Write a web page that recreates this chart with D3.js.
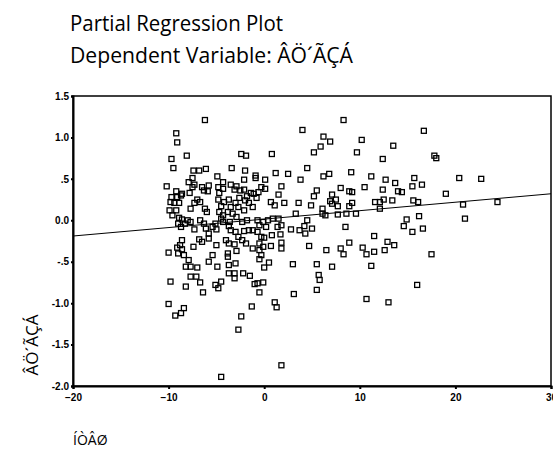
<!DOCTYPE html>
<html>
<head>
<meta charset="utf-8">
<script src="https://cdn.jsdelivr.net/npm/d3@7"></script>
<style>
  body { margin: 0; background: #fff; }
  svg { display: block; }
</style>
</head>
<body>
<script>
let w = 553;
let h = 450;

// residuals, x then y in matching order
let xValues = [
  -6.2,-9.2,-9.1,-8.1,-9.7,-9.5,-7.4,-6.8,-6.1,-4.9,
  -10.2,-7.9,-7.5,-7.3,-6.5,-5.8,-4.3,-4.3,-9.2,-9.7,
  -8.7,-7.8,-6.3,-5.9,-4.8,-4.7,-3.5,-2.9,-3.1,-2.5,
  -2.1,-2.1,-1.4,-1.1,-0.6,-0.3,0.1,-9.1,-8.6,-7.5,
  8.3,4.0,6.2,6.9,10.2,5.9,5.2,9.7,12.4,-2.4,
  -1.9,0.8,-3.4,-2.0,-0.9,-0.9,0.1,1.2,2.5,4.5,
  3.8,6.2,6.8,9.1,11.2,12.7,1.8,5.5,8.0,8.9,
  9.2,10.5,12.4,1.5,5.2,7.1,16.7,13.5,17.8,18.0,
  20.4,22.7,13.7,15.7,15.5,16.5,14.0,14.4,19.0,13.4,
  12.5,15.6,16.1,20.8,24.4,16.2,21.0,14.9,14.6,15.5,
  16.6,12.9,13.6,12.6,17.5,16.0,13.0,-0.8,0.7,1.1,
  2.1,3.6,4.9,6.9,7.5,7.1,7.7,9.2,8.9,11.6,
  12.1,12.1,6.1,3.3,6.1,6.4,7.7,8.6,9.6,4.5,
  4.2,5.0,2.8,3.7,4.3,1.7,8.5,11.5,4.7,8.9,
  10.3,10.7,11.5,6.5,8.0,8.3,1.8,1.8,0.7,0.5,
  0.0,3.0,5.5,7.1,11.2,-0.7,-0.1,0.4,0.9,1.5,
  1.8,1.4,-0.5,0.2,-0.7,-0.3,0.0,-0.5,-0.1,-0.5,
  -0.3,-0.5,0.8,-0.7,-0.1,-0.5,1.1,1.3,
  3.1,5.7,5.8,5.5,10.7,1.8,
  -9.8,-9.4,-8.9,-9.9,-9.2,-9.6,
  -7.3,-7.0,-6.7,-7.7,-6.2,-6.0,-4.8,-4.5,-4.2,-3.7,
  -3.5,-3.8,-3.0,-2.7,-2.6,-2.0,-1.6,-1.8,-4.7,-4.3,
  -4.5,-3.3,-2.9,-2.1,-1.2,-8.9,-8.6,-8.0,-8.3,-9.0,
  -8.7,-7.7,-7.3,-6.7,-6.3,-6.1,-5.8,-5.4,-5.1,-5.0,
  -4.3,-3.7,-3.6,-3.5,-3.0,-2.7,-2.3,-1.8,-2.1,-1.6,
  -1.2,-8.6,-8.8,-8.6,-9.1,-9.0,-8.4,-10.0,-7.4,-6.8,
  -6.5,-5.8,-5.0,-5.4,-4.0,-3.7,-3.8,-3.8,-3.1,-2.9,
  -3.0,-3.7,-2.3,-1.9,-1.2,-7.9,-8.2,-7.0,-7.7,-4.9,
  -5.8,-9.8,-8.2,-10.0,-9.3,-8.7,-8.4,-6.7,-6.4,-7.7,-7.1,
  -5.1,-4.8,-4.5,
  -3.7,-3.1,-3.1,-2.2,-1.5,-1.0,-1.3,-2.4,-2.7,-4.5
];
let yValues = [
  1.21,1.05,0.94,0.78,0.74,0.63,0.60,0.60,0.62,0.53,
  0.41,0.46,0.51,0.43,0.40,0.42,0.46,0.38,0.35,0.28,
  0.30,0.33,0.36,0.35,0.40,0.33,0.43,0.41,0.37,0.36,
  0.49,0.37,0.33,0.32,0.34,0.40,0.38,0.28,0.32,0.40,
  1.21,1.09,1.01,0.95,0.97,0.89,0.82,0.82,0.74,0.80,
  0.78,0.80,0.63,0.60,0.54,0.51,0.49,0.57,0.56,0.63,
  0.49,0.53,0.56,0.58,0.53,0.49,0.41,0.36,0.39,0.35,
  0.34,0.40,0.37,0.31,0.29,0.31,1.08,0.90,0.78,0.75,
  0.51,0.50,0.45,0.51,0.41,0.43,0.35,0.34,0.32,0.24,
  0.25,0.24,0.22,0.19,0.22,0.05,0.02,0.01,-0.07,-0.14,
  -0.10,-0.26,-0.30,-0.36,-0.41,-0.78,-0.99,0.27,0.22,0.18,
  0.21,0.21,0.18,0.23,0.25,0.20,0.17,0.21,0.17,0.22,
  0.22,0.14,0.14,0.08,0.08,0.06,0.07,0.08,0.08,0.00,
  -0.07,-0.10,-0.11,-0.12,-0.16,-0.17,-0.08,-0.19,-0.31,-0.27,
  -0.33,-0.41,-0.38,-0.36,-0.34,-0.41,-0.27,-0.34,-0.31,-0.51,
  -0.57,-0.53,-0.53,-0.56,-0.55,0.00,-0.02,0.00,0.02,0.02,
  -0.06,-0.08,-0.06,-0.08,-0.14,-0.20,-0.21,-0.28,-0.32,-0.36,
  -0.42,-0.47,-0.18,-0.76,-0.75,-0.87,-0.99,-1.05,
  -0.89,-0.66,-0.72,-0.84,-0.95,-1.75,
  0.22,0.21,0.21,0.12,0.12,0.06,
  0.21,0.25,0.22,0.14,0.14,0.10,0.25,0.17,0.22,0.25,
  0.16,0.10,0.21,0.16,0.27,0.24,0.21,0.29,0.10,0.06,
  0.02,0.08,0.04,0.12,0.16,0.03,0.01,0.00,-0.04,-0.04,
  -0.08,-0.02,-0.11,0.00,-0.04,-0.10,-0.16,-0.08,-0.04,-0.11,
  -0.02,-0.07,-0.02,-0.12,-0.14,-0.20,-0.02,0.00,-0.13,-0.12,
  -0.12,-0.24,-0.30,-0.35,-0.33,-0.40,-0.42,-0.39,-0.32,-0.23,
  -0.26,-0.22,-0.30,-0.42,-0.24,-0.28,-0.40,-0.44,-0.29,-0.37,
  -0.52,-0.54,-0.24,-0.28,-0.34,-0.48,-0.56,-0.57,-0.56,-0.56,
  -0.50,-0.74,-0.80,-1.01,-1.15,-1.12,-1.06,-0.75,-0.87,-0.68,-0.68,
  -0.78,-0.82,-0.74,
  -0.64,-0.64,-0.70,-0.64,-0.67,-0.77,-1.04,-1.16,-1.32,-1.89
];

let xTicks = [-20, -10, 0, 10, 20, 30];
let yTicks = [-2, -1.5, -1, -0.5, 0, 0.5, 1, 1.5];
let yTickLabels = ["-2.0", "-1.5", "-1.0", "-.5", "0.0", ".5", "1.0", "1.5"];

// fitted line end points
let fitX = [-20, 30];
let fitY = [-0.19, 0.32];

let points = d3.zip(xValues, yValues);

let svg = d3.select("body")
            .append("svg")
            .attr("width", w)
            .attr("height", h);

let x = d3.scaleLinear().domain([-20, 30]).range([73, 551]);
let y = d3.scaleLinear().domain([-2, 1.5]).range([386, 96]);

// titles
svg.append("text")
   .attr("x", 70).attr("y", 31)
   .attr("font-family", "Open Sans, Noto Sans, sans-serif")
   .attr("font-size", 21)
   .attr("textLength", 213)
   .attr("lengthAdjust", "spacingAndGlyphs")
   .text("Partial Regression Plot");
svg.append("text")
   .attr("x", 70).attr("y", 63)
   .attr("font-family", "Open Sans, Noto Sans, sans-serif")
   .attr("font-size", 21)
   .attr("textLength", 283)
   .attr("lengthAdjust", "spacingAndGlyphs")
   .text("Dependent Variable: ÂÖ´ÃÇÁ");

// frame
svg.append("rect")
   .attr("x", x(-20)).attr("y", y(1.5))
   .attr("width", x(30) - x(-20))
   .attr("height", y(-2) - y(1.5))
   .attr("fill", "none")
   .attr("stroke", "#000")
   .attr("stroke-width", 1.5);

let xAxis = svg.append("g")
   .attr("transform", `translate(0,${y(-2)})`)
   .call(d3.axisBottom(x).tickValues(xTicks).tickSize(3).tickPadding(5));
let yAxis = svg.append("g")
   .attr("transform", `translate(${x(-20)},0)`)
   .call(d3.axisLeft(y).tickValues(yTicks)
           .tickFormat((d, i) => yTickLabels[i]).tickSize(2).tickPadding(2));

[xAxis, yAxis].forEach(g => {
  g.select(".domain").attr("stroke-width", 2);
  g.selectAll(".tick line").attr("stroke-width", 2);
  g.selectAll("text")
   .attr("font-family", "Liberation Sans, Arial, sans-serif")
   .attr("font-weight", "bold")
   .attr("font-size", 10)
   .attr("fill", "#000");
});

// fit line
svg.append("line")
   .attr("x1", x(fitX[0])).attr("y1", y(fitY[0]))
   .attr("x2", x(fitX[1])).attr("y2", y(fitY[1]))
   .attr("stroke", "#000")
   .attr("stroke-width", 1);

// points
svg.selectAll("rect.pt")
   .data(points)
   .enter()
   .append("rect")
   .attr("class", "pt")
   .attr("x", d => x(d[0]) - 2.5)
   .attr("y", d => y(d[1]) - 2.5)
   .attr("width", 5)
   .attr("height", 5)
   .attr("fill", "none")
   .attr("stroke", "#000")
   .attr("stroke-width", 1.3);

// axis titles
svg.append("text")
   .attr("transform", "translate(38,345) rotate(-90)")
   .attr("text-anchor", "middle")
   .attr("font-family", "Open Sans, Noto Sans, sans-serif")
   .attr("font-size", 17)
   .text("ÂÖ´ÃÇÁ");
svg.append("text")
   .attr("x", 73).attr("y", 445)
   .attr("font-family", "Open Sans, Noto Sans, sans-serif")
   .attr("font-size", 14)
   .text("ÍÒÂØ");
</script>
</body>
</html>
